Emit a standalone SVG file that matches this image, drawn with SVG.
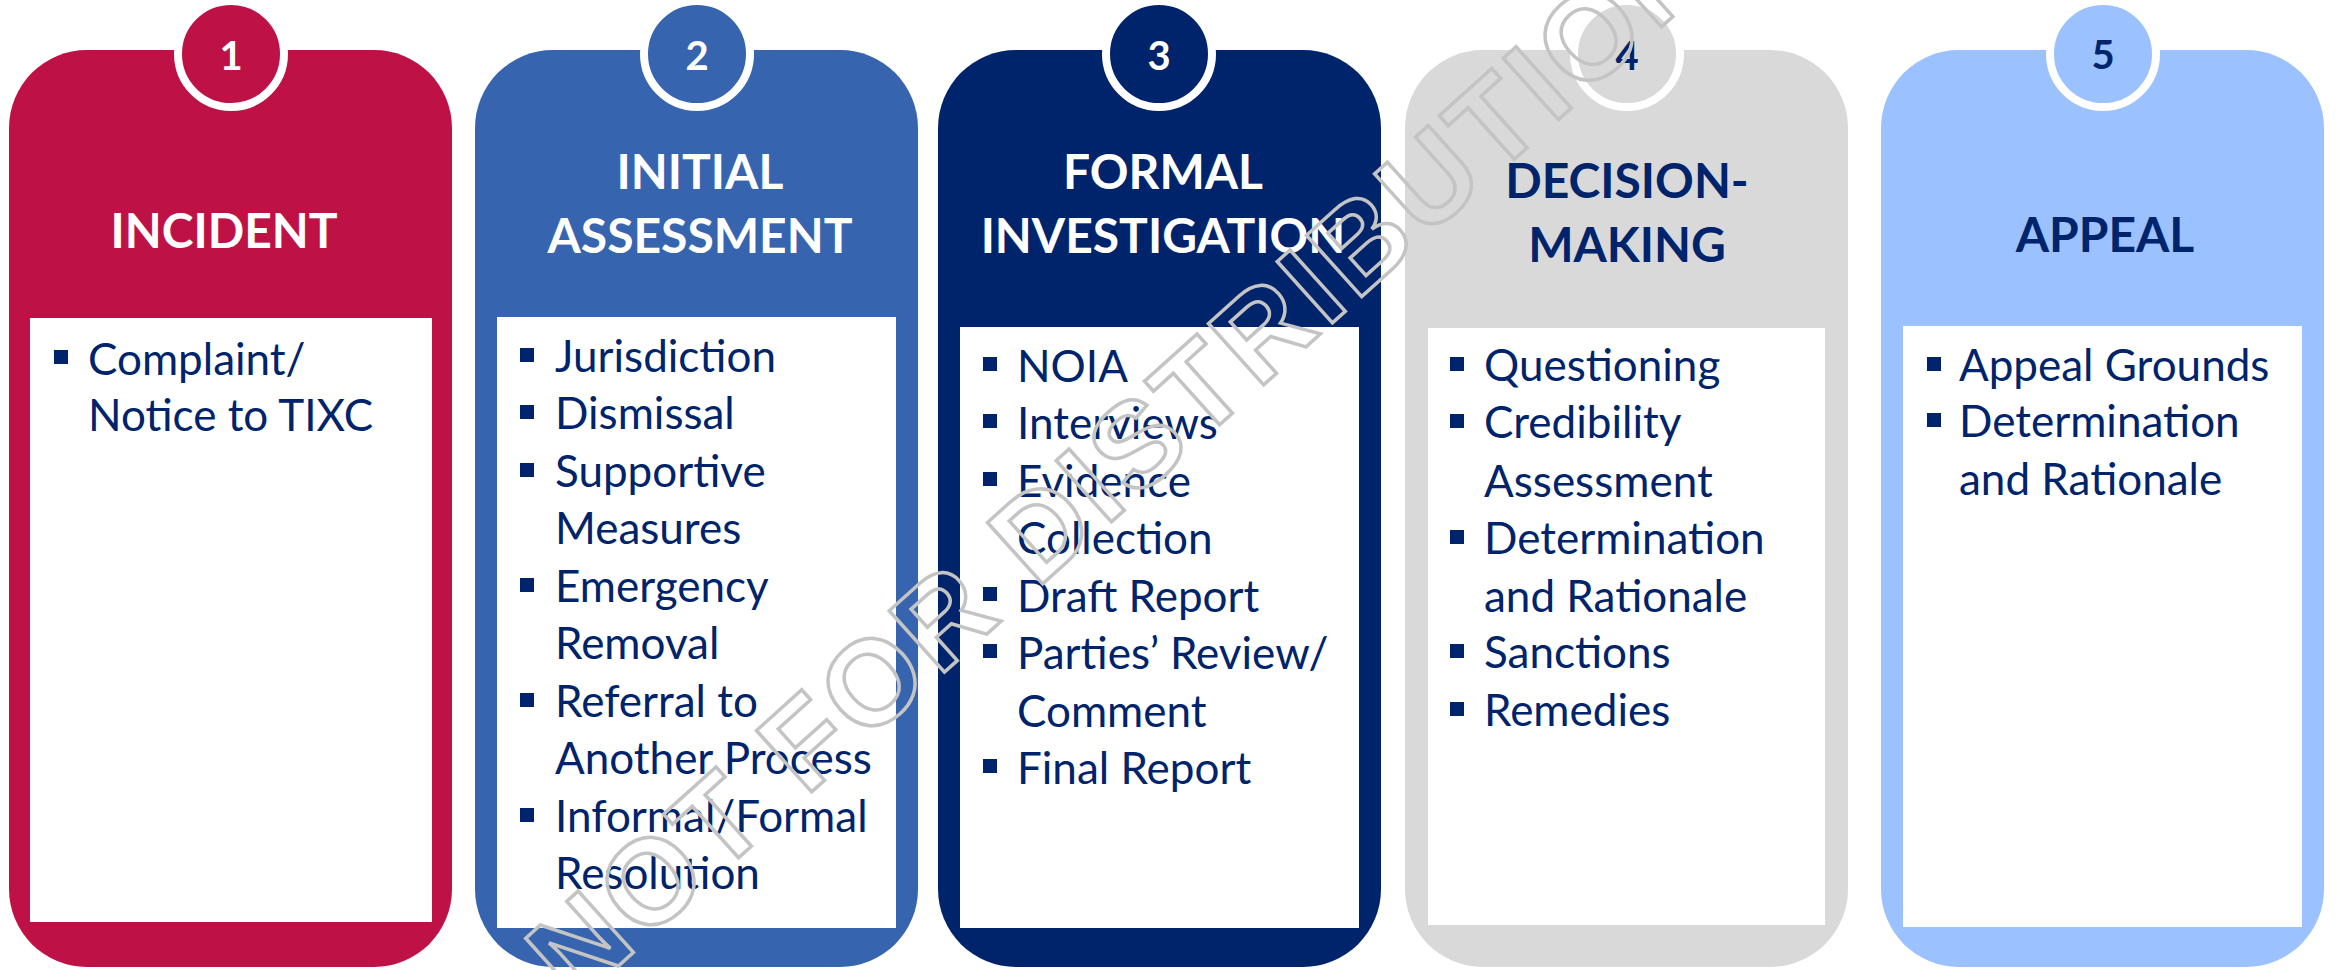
<svg xmlns="http://www.w3.org/2000/svg" width="2338" height="970" viewBox="0 0 2338 970">
<style>
.card{stroke:none}
.inner{fill:#FFFFFF}
.badge{stroke:#FFFFFF;stroke-width:8}
.num{font-family:Lato,"Liberation Sans",sans-serif;font-weight:700;font-size:40px;text-anchor:middle}
.title{font-family:Lato,"Liberation Sans",sans-serif;font-weight:700;font-size:48px;text-anchor:middle}
.body{font-family:Lato,"Liberation Sans",sans-serif;font-weight:400;font-size:44px;fill:#00246B}
.bul{fill:#00246B}
.wm{font-family:"Liberation Sans",Arial,sans-serif;font-weight:700;font-size:120px;fill:none;stroke:#C4C4C4;stroke-width:3.5;letter-spacing:6px}
</style>
<rect width="2338" height="970" fill="#FFFFFF"/>

<g id="connectors"></g>

<g id="step1">
<rect class="card" x="9" y="50" width="443" height="917" rx="78" fill="#BE1246"/>
<rect class="inner" x="30" y="318" width="402" height="604"/>
<circle class="badge" cx="231" cy="54" r="53" fill="#BE1246"/>
<text class="num" x="231" y="70" fill="#FFFFFF">1</text>
<text class="title" x="224" y="248" fill="#FFFFFF">INCIDENT</text>
<rect class="bul" x="54" y="350" width="14" height="14"/>
<text class="body" x="88" y="375">Complaint/</text>
<text class="body" x="88" y="431">Notice to TIXC</text>
</g>

<g id="step2">
<rect class="card" x="475" y="50" width="443" height="917" rx="78" fill="#3664AF"/>
<rect class="inner" x="497" y="317" width="399" height="611"/>
<circle class="badge" cx="697" cy="54" r="53" fill="#3664AF"/>
<text class="num" x="697" y="70" fill="#FFFFFF">2</text>
<text class="title" x="700" y="189" fill="#FFFFFF">INITIAL</text>
<text class="title" x="700" y="253" fill="#FFFFFF">ASSESSMENT</text>
<rect class="bul" x="520" y="348" width="14" height="14"/>
<text class="body" x="555" y="372">Jurisdiction</text>
<rect class="bul" x="520" y="405" width="14" height="14"/>
<text class="body" x="555" y="429">Dismissal</text>
<rect class="bul" x="520" y="463" width="14" height="14"/>
<text class="body" x="555" y="487">Supportive</text>
<text class="body" x="555" y="544">Measures</text>
<rect class="bul" x="520" y="578" width="14" height="14"/>
<text class="body" x="555" y="602">Emergency</text>
<text class="body" x="555" y="659">Removal</text>
<rect class="bul" x="520" y="693" width="14" height="14"/>
<text class="body" x="555" y="717">Referral to</text>
<text class="body" x="555" y="774">Another Process</text>
<rect class="bul" x="520" y="808" width="14" height="14"/>
<text class="body" x="555" y="832">Informal/Formal</text>
<text class="body" x="555" y="889">Resolution</text>
</g>

<g id="step3">
<rect class="card" x="938" y="50" width="443" height="917" rx="78" fill="#00246B"/>
<rect class="inner" x="960" y="327" width="399" height="601"/>
<circle class="badge" cx="1159" cy="54" r="53" fill="#00246B"/>
<text class="num" x="1159" y="70" fill="#FFFFFF">3</text>
<text class="title" x="1163" y="189" fill="#FFFFFF">FORMAL</text>
<text class="title" x="1163" y="253" fill="#FFFFFF">INVESTIGATION</text>
<rect class="bul" x="983" y="357" width="14" height="14"/>
<text class="body" x="1017" y="382">NOIA</text>
<rect class="bul" x="983" y="414" width="14" height="14"/>
<text class="body" x="1017" y="439">Interviews</text>
<rect class="bul" x="983" y="472" width="14" height="14"/>
<text class="body" x="1017" y="497">Evidence</text>
<text class="body" x="1017" y="554">Collection</text>
<rect class="bul" x="983" y="587" width="14" height="14"/>
<text class="body" x="1017" y="612">Draft Report</text>
<rect class="bul" x="983" y="644" width="14" height="14"/>
<text class="body" x="1017" y="669">Parties’ Review/</text>
<text class="body" x="1017" y="727">Comment</text>
<rect class="bul" x="983" y="759" width="14" height="14"/>
<text class="body" x="1017" y="784">Final Report</text>
</g>

<g id="step4">
<rect class="card" x="1405" y="50" width="443" height="917" rx="78" fill="#D9D9D9"/>
<rect class="inner" x="1428" y="328" width="397" height="597"/>
<circle class="badge" cx="1627" cy="54" r="53" fill="#D9D9D9"/>
<text class="num" x="1627" y="70" fill="#00246B">4</text>
<text class="title" x="1627" y="198" fill="#00246B">DECISION-</text>
<text class="title" x="1627" y="262" fill="#00246B">MAKING</text>
<rect class="bul" x="1450" y="357" width="14" height="14"/>
<text class="body" x="1484" y="381">Questioning</text>
<rect class="bul" x="1450" y="414" width="14" height="14"/>
<text class="body" x="1484" y="438">Credibility</text>
<text class="body" x="1484" y="497">Assessment</text>
<rect class="bul" x="1450" y="530" width="14" height="14"/>
<text class="body" x="1484" y="554">Determination</text>
<text class="body" x="1484" y="612">and Rationale</text>
<rect class="bul" x="1450" y="644" width="14" height="14"/>
<text class="body" x="1484" y="668">Sanctions</text>
<rect class="bul" x="1450" y="702" width="14" height="14"/>
<text class="body" x="1484" y="726">Remedies</text>
</g>

<g id="step5">
<rect class="card" x="1881" y="50" width="443" height="917" rx="78" fill="#9BC1FF"/>
<rect class="inner" x="1903" y="326" width="399" height="601"/>
<circle class="badge" cx="2103" cy="54" r="53" fill="#9BC1FF"/>
<text class="num" x="2103" y="69" fill="#00246B">5</text>
<text class="title" x="2105" y="252" fill="#00246B">APPEAL</text>
<rect class="bul" x="1927" y="357" width="14" height="14"/>
<text class="body" x="1959" y="381">Appeal Grounds</text>
<rect class="bul" x="1927" y="413" width="14" height="14"/>
<text class="body" x="1959" y="437">Determination</text>
<text class="body" x="1959" y="495">and Rationale</text>
</g>

<g id="watermark">
<text class="wm" transform="translate(575 1005) rotate(-42)">NOT FOR DISTRIBUTION</text>
</g>
</svg>
